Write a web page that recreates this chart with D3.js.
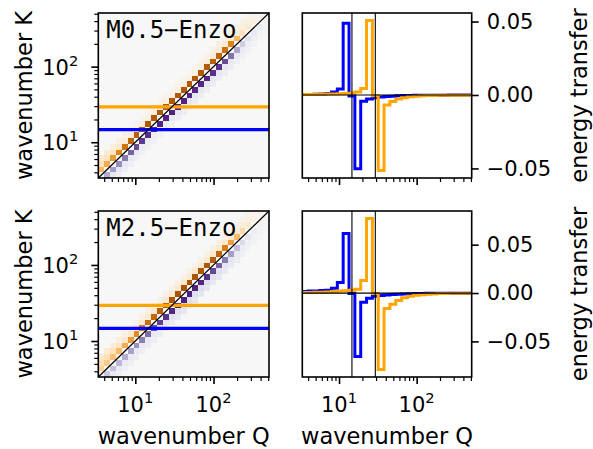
<!DOCTYPE html>
<html>
<head>
<meta charset="utf-8">
<script src="https://cdn.jsdelivr.net/npm/d3@7"></script>
<style>
  body { margin: 0; background: #fff; }
  svg text { fill: #000; }
</style>
</head>
<body>
<div id="chart"></div>
<script>
/* shell-to-shell energy transfer: heat maps (left) and two shells (right) */

const width = 593, height = 449;

// log shell edges, 29 bins
const edges = [3.364, 4, 4.757, 5.657, 6.727, 8, 9.514, 11.31, 13.45, 16, 19.03, 22.63, 26.91, 32,
  38.05, 45.25, 53.82, 64, 76.11, 90.51, 107.6, 128, 152.2, 181.0, 215.3, 256, 304.4, 362.0, 430.5, 512];
const nBins = edges.length - 1;

const models = ["M0.5\u2212Enzo", "M2.5\u2212Enzo"];
const shellBins = [8, 12];            // the K shells that are highlighted
const shellColors = ["blue", "orange"];
const colorLimits = [0.0625, 0.096];

const majorTicks = [10, 100];
const majorExp = ["1", "2"];
const minorTicks = [4, 5, 6, 7, 8, 9, 20, 30, 40, 50, 60, 70, 80, 90, 200, 300, 400, 500];
const transferTicks = [-0.05, 0, 0.05];

// heat map bands, index = K bin; Up = cells with Q below K, Dn = cells with Q above K
const m05Up1 = [0, 0.025, 0.028, 0.032, 0.037, 0.042, 0.046, 0.048, 0.0489, 0.05, 0.05, 0.0503, 0.0507, 0.0505, 0.05,
  0.05, 0.05, 0.05, 0.05, 0.049, 0.048, 0.046, 0.043, 0.0375, 0.025, 0.0125, 0.007, 0.004, 0.002];
const m05Up2 = [0, 0, 0.012, 0.011, 0.01, 0.008, 0.006, 0.005, 0.004, 0.004, 0.0045, 0.0045, 0.0045, 0.0045, 0.0045,
  0.0045, 0.0045, 0.0045, 0.0045, 0.0045, 0.005, 0.0055, 0.006, 0.0065, 0.0065, 0.006, 0.005, 0.004, 0.003];
const m05Up3 = [0, 0, 0, 0.007, 0.006, 0.005, 0.004, 0.003, 0.002, 0.002, 0.002, 0.002, 0.0022, 0.0022, 0.0022,
  0.0022, 0.0022, 0.0022, 0.0022, 0.0022, 0.0025, 0.003, 0.0035, 0.004, 0.004, 0.004, 0.0035, 0.003, 0.002];
const m05Dn1 = [-0.025, -0.028, -0.032, -0.036, -0.04, -0.044, -0.047, -0.049, -0.0502, -0.051, -0.051, -0.0512, -0.0514, -0.051, -0.05,
  -0.05, -0.05, -0.05, -0.049, -0.048, -0.044, -0.037, -0.026, -0.016, -0.01, -0.006, -0.004, -0.002, 0];
const m05Dn2 = [-0.007, -0.007, -0.0065, -0.006, -0.0055, -0.005, -0.0045, -0.0042, -0.0042, -0.005, -0.006, -0.0065, -0.0068, -0.007, -0.007,
  -0.007, -0.007, -0.007, -0.007, -0.0065, -0.006, -0.0055, -0.005, -0.004, -0.003, -0.002, -0.0015, 0, 0];
const m05Dn3 = [-0.004, -0.004, -0.0035, -0.003, -0.003, -0.003, -0.0028, -0.0027, -0.0027, -0.0032, -0.0038, -0.0042, -0.0045, -0.0045, -0.0045,
  -0.0045, -0.0045, -0.0045, -0.0042, -0.004, -0.0035, -0.003, -0.0025, -0.002, -0.0015, -0.001, 0, 0, 0];

const m25Up1 = [0, 0.026, 0.03, 0.034, 0.038, 0.043, 0.049, 0.055, 0.0615, 0.066, 0.07, 0.074, 0.077, 0.079, 0.08,
  0.08, 0.08, 0.079, 0.078, 0.077, 0.075, 0.071, 0.06, 0.048, 0.037, 0.023, 0.012, 0.006, 0.003];
const m25Up2 = [0, 0, 0.019, 0.018, 0.017, 0.015, 0.013, 0.012, 0.0105, 0.011, 0.012, 0.0125, 0.0125, 0.0125, 0.0125,
  0.0125, 0.0125, 0.012, 0.012, 0.012, 0.012, 0.012, 0.012, 0.012, 0.011, 0.01, 0.008, 0.006, 0.004];
const m25Up3 = [0, 0, 0, 0.011, 0.01, 0.009, 0.007, 0.006, 0.005, 0.005, 0.005, 0.005, 0.005, 0.005, 0.005,
  0.005, 0.005, 0.005, 0.005, 0.005, 0.005, 0.0055, 0.006, 0.006, 0.006, 0.0055, 0.005, 0.004, 0.003];
const m25Dn1 = [-0.026, -0.029, -0.033, -0.037, -0.042, -0.047, -0.053, -0.059, -0.0655, -0.07, -0.074, -0.077, -0.079, -0.08, -0.08,
  -0.079, -0.077, -0.074, -0.069, -0.062, -0.054, -0.043, -0.03, -0.019, -0.012, -0.007, -0.004, -0.002, 0];
const m25Dn2 = [-0.008, -0.008, -0.0085, -0.009, -0.009, -0.0095, -0.0095, -0.0098, -0.0099, -0.011, -0.013, -0.0145, -0.016, -0.016, -0.016,
  -0.016, -0.015, -0.014, -0.013, -0.012, -0.011, -0.009, -0.007, -0.005, -0.004, -0.003, -0.002, 0, 0];
const m25Dn3 = [-0.005, -0.005, -0.0055, -0.006, -0.006, -0.0063, -0.0065, -0.0066, -0.0066, -0.0075, -0.009, -0.0105, -0.0115, -0.0115, -0.0115,
  -0.011, -0.0105, -0.01, -0.009, -0.008, -0.007, -0.006, -0.0045, -0.003, -0.002, -0.0015, 0, 0, 0];

// energy transfer of the two shells, index = Q bin
const m05K15 = [0.0003, 0.0004, 0.0005, 0.0007, 0.001, 0.002, 0.004, 0.0489, -0.0007, -0.0502, -0.0042, -0.0027, -0.0018, -0.0013, -0.001,
  -0.0008, -0.0006, -0.0004, -0.0003, -0.0002, -0.0001, -0.0001, -0.0001, -0.0001, -0.0001, 0, 0, 0, 0];
const m05K30 = [0.0003, 0.0003, 0.0004, 0.0005, 0.0006, 0.0007, 0.0008, 0.001, 0.0012, 0.0021, 0.0045, 0.0507, -0.0005, -0.0514, -0.0068,
  -0.0045, -0.0028, -0.0018, -0.0012, -0.0008, -0.0005, -0.0004, -0.0003, -0.0002, -0.0001, -0.0001, -0.0001, -0.0001, -0.0001];
const m25K15 = [0.0015, 0.002, 0.002, 0.0025, 0.003, 0.005, 0.011, 0.0615, -0.0005, -0.0655, -0.0095, -0.0055, -0.0034, -0.0025, -0.002,
  -0.0016, -0.0013, -0.001, -0.0008, -0.0006, -0.0004, -0.0003, -0.0002, -0.0001, -0.0001, -0.0001, -0.0001, -0.0001, -0.0001];
const m25K30 = [0.0005, 0.0006, 0.0007, 0.0008, 0.001, 0.0015, 0.002, 0.0023, 0.003, 0.004, 0.013, 0.077, -0.0005, -0.079, -0.016,
  -0.0115, -0.0076, -0.005, -0.0034, -0.0024, -0.0017, -0.0012, -0.0009, -0.0006, -0.0004, -0.0003, -0.0002, -0.0002, -0.0002];

const heatBands = [
  [[-1, m05Up1], [-2, m05Up2], [-3, m05Up3], [1, m05Dn1], [2, m05Dn2], [3, m05Dn3]],
  [[-1, m25Up1], [-2, m25Up2], [-3, m25Up3], [1, m25Dn1], [2, m25Dn2], [3, m25Dn3]]
];
const transfers = [[m05K15, m05K30], [m25K15, m25K30]];

// layout
const leftCol = [98.3, 269], rightCol = [302.3, 471.7];
const rows = [[13, 178], [211, 377]];
const tickFont = 21, labelFont = 22.5;
const sans = "'DejaVu Sans', sans-serif";

const svg = d3.select("#chart")
  .append("svg")
  .attr("width", width)
  .attr("height", height)
  .style("font-family", sans);

const binCenter = i => Math.sqrt(edges[i] * edges[i + 1]);

function powLabel(text, exp) {
  text.append("tspan").text("10");
  text.append("tspan").attr("font-size", "0.7em").attr("dy", "-0.6em").text(exp);
}

// log ticks (minor + major) on one side, no labels
function logTicks(g, axis, scale, transform) {
  const a = g.append("g").attr("transform", transform);
  a.append("g").call(axis(scale).tickValues(minorTicks).tickSize(4).tickFormat(""))
    .call(s => s.selectAll("line").attr("stroke-width", 1.2));
  a.append("g").call(axis(scale).tickValues(majorTicks).tickSize(7).tickFormat(""))
    .call(s => s.selectAll("line").attr("stroke-width", 1.6));
  a.selectAll(".domain").remove();
}

function xLabels(x, bottom, cx) {
  majorTicks.forEach((t, i) => {
    svg.append("text")
      .attr("x", x(t)).attr("y", bottom + 35)
      .attr("text-anchor", "middle")
      .attr("font-size", tickFont)
      .call(powLabel, majorExp[i]);
  });
  svg.append("text")
    .attr("x", cx).attr("y", 444)
    .attr("text-anchor", "middle")
    .attr("font-size", labelFont)
    .text("wavenumber Q");
}

function heatPanel(r) {
  const [y0, y1] = rows[r];
  const x = d3.scaleLog().domain(d3.extent(edges)).range(leftCol);
  const y = d3.scaleLog().domain(d3.extent(edges)).range([y1, y0]);
  // positive transfer -> orange, negative -> purple
  const color = d3.scaleSequential(d3.piecewise(d3.interpolateRgb, d3.schemePuOr[11]))
    .domain([-colorLimits[r], colorLimits[r]])
    .clamp(true);

  const cells = [];
  heatBands[r].forEach(([off, vals]) => {
    vals.forEach((v, k) => {
      const q = k + off;
      if (q >= 0 && q < nBins && v !== 0) cells.push({ k, q, v });
    });
  });

  const g = svg.append("g");
  g.append("rect")
    .attr("x", leftCol[0]).attr("y", y0)
    .attr("width", leftCol[1] - leftCol[0]).attr("height", y1 - y0)
    .attr("fill", color(0));

  g.selectAll("rect.cell")
    .data(cells)
    .join("rect")
    .attr("class", "cell")
    .attr("x", d => x(edges[d.q]))
    .attr("width", d => x(edges[d.q + 1]) - x(edges[d.q]))
    .attr("y", d => y(edges[d.k + 1]))
    .attr("height", d => y(edges[d.k]) - y(edges[d.k + 1]))
    .attr("fill", d => color(d.v))
    .attr("shape-rendering", "crispEdges");

  // highlighted shells
  shellBins.forEach((b, i) => {
    g.append("line")
      .attr("x1", leftCol[0]).attr("x2", leftCol[1])
      .attr("y1", y(binCenter(b))).attr("y2", y(binCenter(b)))
      .attr("stroke", shellColors[i])
      .attr("stroke-width", 3.3);
  });

  // K = Q
  const ext = d3.extent(edges);
  g.append("line")
    .attr("x1", x(ext[0])).attr("y1", y(ext[0]))
    .attr("x2", x(ext[1])).attr("y2", y(ext[1]))
    .attr("stroke", "black")
    .attr("stroke-width", 1.2);

  g.append("text")
    .attr("x", leftCol[0] + 8).attr("y", y0 + 25)
    .style("font-family", "'DejaVu Sans Mono', monospace")
    .attr("font-size", 24)
    .text(models[r]);

  g.append("rect")
    .attr("x", leftCol[0]).attr("y", y0)
    .attr("width", leftCol[1] - leftCol[0]).attr("height", y1 - y0)
    .attr("fill", "none").attr("stroke", "black").attr("stroke-width", 1.6);

  logTicks(svg, d3.axisBottom, x, `translate(0,${y1})`);
  logTicks(svg, d3.axisLeft, y, `translate(${leftCol[0]},0)`);

  majorTicks.forEach((t, i) => {
    svg.append("text")
      .attr("x", leftCol[0] - 20).attr("y", y(t) + 8)
      .attr("text-anchor", "end")
      .attr("font-size", tickFont)
      .call(powLabel, majorExp[i]);
  });

  svg.append("text")
    .attr("transform", `translate(32,${(y0 + y1) / 2}) rotate(-90)`)
    .attr("text-anchor", "middle")
    .attr("font-size", labelFont)
    .text("wavenumber K");

  if (r === 1) xLabels(x, y1, (leftCol[0] + leftCol[1]) / 2);
}

function transferPanel(r) {
  const [y0, y1] = rows[r];
  const x = d3.scaleLog().domain(d3.extent(edges)).range(rightCol);
  const all = transfers[r].flat();
  const ext = d3.extent(all);
  const pad = (ext[1] - ext[0]) * 0.05;
  const y = d3.scaleLinear().domain([ext[0] - pad, ext[1] + pad]).range([y1, y0]);

  svg.append("clipPath").attr("id", "clip" + r)
    .append("rect")
    .attr("x", rightCol[0]).attr("y", y0)
    .attr("width", rightCol[1] - rightCol[0]).attr("height", y1 - y0);

  const g = svg.append("g").attr("clip-path", `url(#clip${r})`);

  const line = d3.line()
    .x(d => x(d[0]))
    .y(d => y(d[1]))
    .curve(d3.curveStepAfter);

  transfers[r].forEach((vals, i) => {
    const pts = vals.map((v, q) => [edges[q], v]).concat([[edges[nBins], vals[nBins - 1]]]);
    g.append("path")
      .datum(pts)
      .attr("d", line)
      .attr("fill", "none")
      .attr("stroke", shellColors[i])
      .attr("stroke-width", 3);
  });

  g.append("line")
    .attr("x1", rightCol[0]).attr("x2", rightCol[1])
    .attr("y1", y(0)).attr("y2", y(0))
    .attr("stroke", "black").attr("stroke-width", 1.2);

  shellBins.forEach(b => {
    g.append("line")
      .attr("x1", x(binCenter(b))).attr("x2", x(binCenter(b)))
      .attr("y1", y0).attr("y2", y1)
      .attr("stroke", "black").attr("stroke-width", 1.1);
  });

  svg.append("rect")
    .attr("x", rightCol[0]).attr("y", y0)
    .attr("width", rightCol[1] - rightCol[0]).attr("height", y1 - y0)
    .attr("fill", "none").attr("stroke", "black").attr("stroke-width", 1.6);

  logTicks(svg, d3.axisBottom, x, `translate(0,${y1})`);

  svg.append("g")
    .attr("transform", `translate(${rightCol[1]},0)`)
    .call(d3.axisRight(y).tickValues(transferTicks).tickSize(7).tickPadding(8).tickFormat(d3.format(".2f")))
    .call(s => s.select(".domain").remove())
    .call(s => s.selectAll("line").attr("stroke-width", 1.6))
    .call(s => s.attr("font-family", null))
    .call(s => s.selectAll("text").attr("font-size", tickFont));

  svg.append("text")
    .attr("transform", `translate(587,${(y0 + y1) / 2}) rotate(-90)`)
    .attr("text-anchor", "middle")
    .attr("font-size", labelFont)
    .text("energy transfer");

  if (r === 1) xLabels(x, y1, (rightCol[0] + rightCol[1]) / 2);
}

[0, 1].forEach(r => { heatPanel(r); transferPanel(r); });
</script>
</body>
</html>
